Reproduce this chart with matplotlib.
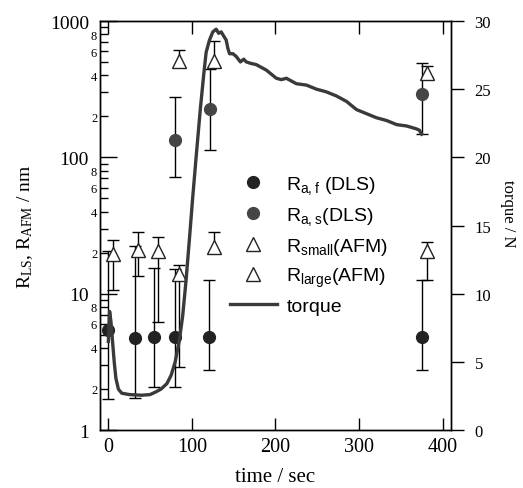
import matplotlib
matplotlib.use("Agg")
import matplotlib.pyplot as plt
from matplotlib.ticker import LogLocator, FuncFormatter, FixedLocator
from matplotlib.lines import Line2D
import numpy as np

plt.rcParams['font.family'] = ['Liberation Serif', 'DejaVu Serif']
plt.rcParams['mathtext.default'] = 'regular'

# R_a,f (DLS) - fast mode
af_t = [0, 32, 55, 80, 121, 375]
af_v = [5.4, 4.7, 4.8, 4.8, 4.8, 4.8]
af_lo = [1.7, 1.72, 2.08, 2.08, 2.77, 2.77]
af_hi = [20.6, 22.3, 15.4, 15.2, 12.5, 12.5]

# R_a,s (DLS) - slow mode
as_t = [80, 122, 375]
as_v = [135, 226, 292]
as_lo = [72, 114, 148]
as_hi = [276, 445, 490]

# R_small (AFM)
sm_t = [5, 36, 60, 84, 126, 381]
sm_v = [19.5, 21, 20.6, 14, 22, 20.5]
sm_lo = [10.7, 13.5, 6.2, 2.9, 19.9, 12.6]
sm_hi = [24.7, 28.5, 26.1, 16.3, 28.3, 24]

# R_large (AFM)
lg_t = [84, 126, 381]
lg_v = [512, 512, 415]
lg_lo = [462, 458, 390]
lg_hi = [614, 710, 470]

# torque curve
tq_t = [0, 1.5, 3, 5, 7, 9, 12, 16, 25, 40, 50, 57, 63, 70, 75, 80, 85, 89, 93,
        97, 101, 105, 110, 114, 117, 121, 125, 129, 132, 135, 138, 141, 143,
        145, 149, 153, 158, 162, 165, 170, 177, 183, 189, 195, 201, 207, 213,
        219, 225, 237, 249, 261, 273, 285, 297, 309, 321, 333, 345, 357, 368,
        372, 375]
tq_v = [6.5, 8.7, 8.0, 6.5, 5.0, 3.8, 3.0, 2.7, 2.6, 2.55, 2.6, 2.8, 3.0, 3.4,
        4.0, 5.0, 6.6, 8.4, 11, 14, 17.1, 20, 23.5, 26, 27.7, 28.6, 29.2, 29.4,
        29.1, 29.2, 28.9, 28.6, 28.0, 27.6, 27.6, 27.4, 27.0, 27.2, 27.0, 26.9,
        26.8, 26.6, 26.4, 26.1, 25.8, 25.7, 25.8, 25.6, 25.4, 25.3, 25.0, 24.8,
        24.5, 24.1, 23.5, 23.2, 22.9, 22.7, 22.4, 22.3, 22.1, 22.0, 21.7]

labels = ['R$_{a,f}$ (DLS)', 'R$_{a,s}$(DLS)', 'R$_{small}$(AFM)',
          'R$_{large}$(AFM)', 'torque']


def yerr(v, lo, hi):
    v = np.array(v)
    return [v - np.array(lo), np.array(hi) - v]


fig = plt.figure(figsize=(5.23, 4.89), dpi=100)
ax = fig.add_axes([0.1912, 0.1186, 0.6711, 0.8364])
ax2 = ax.twinx()

eb = dict(ecolor='black', elinewidth=1.0, capsize=4, capthick=1.0, linestyle='none')
af_style = dict(marker='o', ms=8.5, mfc='#222222', mec='#222222')
as_style = dict(marker='o', ms=8.5, mfc='#454545', mec='#454545')
tri_style = dict(marker='^', ms=10, mfc='white', mec='#222222', mew=1.0)

ax.errorbar(af_t, af_v, yerr=yerr(af_v, af_lo, af_hi), **af_style, **eb)
ax.errorbar(as_t, as_v, yerr=yerr(as_v, as_lo, as_hi), **as_style, **eb)
ax.errorbar(sm_t, sm_v, yerr=yerr(sm_v, sm_lo, sm_hi), **tri_style, **eb)
ax.errorbar(lg_t, lg_v, yerr=yerr(lg_v, lg_lo, lg_hi), **tri_style, **eb)

ln, = ax2.plot(tq_t, tq_v, color='#3a3a3a', lw=2.4)

ax.set_yscale('log')
ax.set_ylim(1, 1000)
ax.set_xlim(-10, 410)
ax2.set_ylim(0, 30)

ax.set_xticks([0, 100, 200, 300, 400])
ax.yaxis.set_major_locator(FixedLocator([1, 10, 100, 1000]))
ax.yaxis.set_major_formatter(FuncFormatter(lambda v, p: '%d' % v))
ax.yaxis.set_minor_locator(LogLocator(base=10, subs=(2, 3, 4, 5, 6, 7, 8, 9)))


def minor_fmt(v, p):
    m = int(round(v / 10 ** np.floor(np.log10(v) + 1e-9)))
    return str(m) if m in (2, 4, 6, 8) else ''


ax.yaxis.set_minor_formatter(FuncFormatter(minor_fmt))
ax.tick_params(axis='y', which='major', direction='in', length=12, width=1,
               labelsize=14, right=False, pad=8)
ax.tick_params(axis='y', which='minor', direction='in', length=6, width=1,
               labelsize=9, right=False, pad=2)
ax.tick_params(axis='x', which='both', direction='in', length=9, width=1,
               top=True, labelsize=14.5, pad=5)
ax.xaxis.set_minor_locator(FixedLocator([]))

ax2.set_yticks([0, 5, 10, 15, 20, 25, 30])
ax2.tick_params(axis='y', direction='out', length=9, width=1, labelsize=12, pad=8)

for a in (ax, ax2):
    for s in a.spines.values():
        s.set_linewidth(1.0)

ax.set_xlabel('time / sec', fontsize=15, labelpad=8)
ax.set_ylabel('R$_{LS}$, R$_{AFM}$ / nm', fontsize=14)
ax.yaxis.set_label_coords(-0.185, 0.5)
ax2.set_ylabel('torque / N', fontsize=12, rotation=270)
ax2.yaxis.set_label_coords(1.185, 0.53)

handles = [Line2D([], [], linestyle='none', **af_style),
           Line2D([], [], linestyle='none', **as_style),
           Line2D([], [], linestyle='none', **tri_style),
           Line2D([], [], linestyle='none', **tri_style),
           ln]
ax2.legend(handles, labels, loc='upper left', bbox_to_anchor=(0.37, 0.625),
           frameon=False, prop={'family': 'Liberation Sans', 'size': 14},
           handlelength=2.4, handletextpad=0.5, labelspacing=0.45,
           borderpad=0, borderaxespad=0)

fig.savefig('out.png', dpi=100)
